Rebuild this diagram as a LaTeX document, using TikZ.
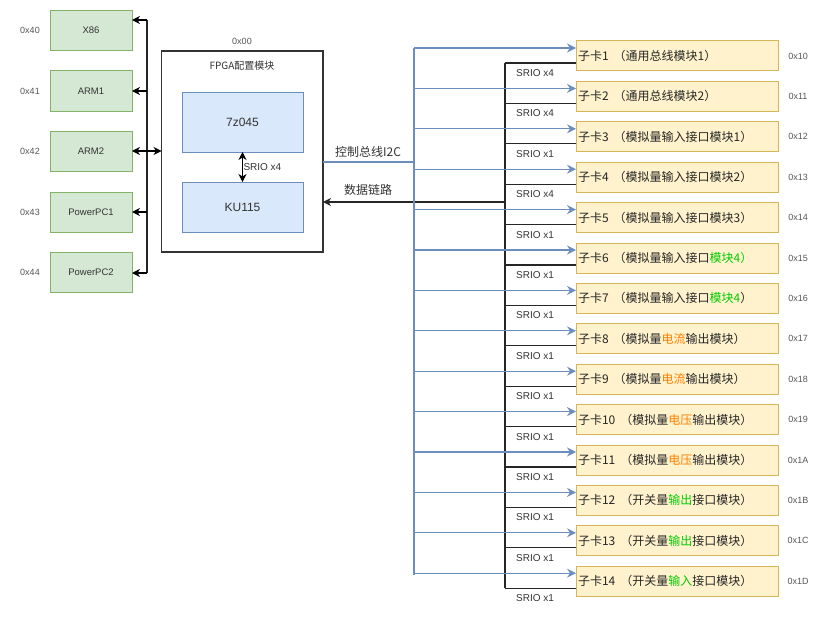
\documentclass[tikz,border=0pt]{standalone}
\usepackage{fontspec}
\setmainfont{Liberation Sans}
\newfontfamily\cjk{Noto Sans CJK SC}
\usetikzlibrary{arrows.meta,calc}
\definecolor{gfill}{HTML}{D5E8D4}
\definecolor{gline}{HTML}{82B366}
\definecolor{bfill}{HTML}{DAE8FC}
\definecolor{bline}{HTML}{6C8EBF}
\definecolor{yfill}{HTML}{FFF2CC}
\definecolor{yline}{HTML}{D6B656}
\definecolor{txt}{HTML}{333333}
\definecolor{hex}{HTML}{555555}
\definecolor{gtxt}{HTML}{00CC00}
\definecolor{otxt}{HTML}{FF8000}
\tikzset{
  every node/.style={inner sep=0pt, outer sep=0pt},
  cpu/.style={draw=gline, fill=gfill, line width=1pt, minimum width=82pt, minimum height=40pt, font=\fontsize{9.5}{11}\selectfont, text=txt},
  chip/.style={draw=bline, fill=bfill, line width=1pt, minimum width=121pt, font=\fontsize{12}{14}\selectfont, text=txt},
  card/.style={draw=yline, fill=yfill, line width=1pt, minimum width=202pt, minimum height=30pt},
  cardtxt/.style={anchor=west, font=\cjk\fontsize{12}{14}\selectfont, text=black!85},
  hexlbl/.style={font=\fontsize{9}{11}\selectfont, text=hex},
  srio/.style={font=\fontsize{10}{12}\selectfont, text=txt},
  arr/.style={-{Stealth[length=8pt,width=8pt,inset=2.5pt]}, line width=1.1pt},
  darr/.style={{Stealth[length=8pt,width=8pt,inset=2.5pt]}-{Stealth[length=8pt,width=8pt,inset=2.5pt]}, line width=1.1pt},
  bluearr/.style={-{Stealth[length=9pt,width=9pt,inset=3pt]}, line width=1.1pt, draw=bline},
  wire/.style={line width=1.1pt, draw=black!85},
}
\begin{document}
\begin{tikzpicture}[x=1pt,y=-1pt]
\useasboundingbox (0,0) rectangle (830,618);
% left CPU boxes
\node[cpu] (x86) at (91,30.5) {X86};
\node[cpu] (arm1) at (91,91) {ARM1};
\node[cpu] (arm2) at (91,151) {ARM2};
\node[cpu] (ppc1) at (91,212) {PowerPC1};
\node[cpu] (ppc2) at (91,272) {PowerPC2};
\node[hexlbl] (h40) at (30,30.5) {0x40};
\node[hexlbl] (h41) at (30,91) {0x41};
\node[hexlbl] (h42) at (30,151) {0x42};
\node[hexlbl] (h43) at (30,212) {0x43};
\node[hexlbl] (h44) at (30,272) {0x44};
% FPGA box
\node[draw=black!80, fill=white, line width=1.1pt, minimum width=161.5pt, minimum height=201pt] (fpga) at (242.25,151.5) {};
\node[hexlbl] (h00) at (242,41) {0x00};
\node[font=\cjk\fontsize{10}{11}\selectfont, text=txt] (ftitle) at (242,66) {FPGA配置模块};
\node[chip, minimum height=60pt] (z7) at (242.5,122) {7z045};
\node[chip, minimum height=50pt] (ku) at (242.5,207) {KU115};
\draw[darr] (z7.south) -- (ku.north) node[midway, right=1pt, srio] {SRIO x4};
% left bus
\coordinate (bt) at (147,20);
\coordinate (bb) at (147,273);
\draw[wire] (bt) -- (bb);
\draw[arr] (bt) -- (bt -| x86.east);
\draw[arr] (147,91) -- (arm1.east);
\draw[arr] (147,212) -- (ppc1.east);
\draw[arr] (bb) -- (bb -| ppc2.east);
\draw[darr] (arm2.east) -- (arm2.east -| fpga.west);
% control bus and data link
\coordinate (ctl) at (414,162);
\coordinate (dat) at (505,202);
\draw[line width=1.1pt, draw=bline] (ctl -| fpga.east) -- (ctl);
\node[font=\cjk\fontsize{12}{14}\selectfont, text=txt] (ctltxt) at (368,152) {控制总线I2C};
\draw[arr, draw=black!85] (dat) -- (dat -| fpga.east);
\node[font=\cjk\fontsize{12}{14}\selectfont, text=txt] (dattxt) at (368,190) {数据链路};
% vertical buses on right
\coordinate (bvt) at (414,48);
\coordinate (bvb) at (414,575.3);
\draw[line width=1.1pt, draw=bline] (bvt) -- (bvb);
\coordinate (kvt) at (505,63);
\coordinate (kvb) at (505,588.3);
\draw[wire] (kvt) -- (kvb);
% cards
\foreach \i/\t/\h/\s in {
 1/{子卡1\hspace{5pt}（通用总线模块1）}/0x10/x4,
 2/{子卡2\hspace{5pt}（通用总线模块2）}/0x11/x4,
 3/{子卡3\hspace{5pt}（模拟量输入接口模块1）}/0x12/x1,
 4/{子卡4\hspace{5pt}（模拟量输入接口模块2）}/0x13/x4,
 5/{子卡5\hspace{5pt}（模拟量输入接口模块3）}/0x14/x1,
 6/{子卡6\hspace{5pt}（模拟量输入接口\textcolor{gtxt}{模块4）}}/0x15/x1,
 7/{子卡7\hspace{5pt}（模拟量输入接口\textcolor{gtxt}{模块4}）}/0x16/x1,
 8/{子卡8\hspace{5pt}（模拟量\textcolor{otxt}{电流}输出模块）}/0x17/x1,
 9/{子卡9\hspace{5pt}（模拟量\textcolor{otxt}{电流}输出模块）}/0x18/x1,
 10/{子卡10\hspace{5pt}（模拟量\textcolor{otxt}{电压}输出模块）}/0x19/x1,
 11/{子卡11\hspace{5pt}（模拟量\textcolor{otxt}{电压}输出模块）}/0x1A/x1,
 12/{子卡12\hspace{5pt}（开关量\textcolor{gtxt}{输出}接口模块）}/0x1B/x1,
 13/{子卡13\hspace{5pt}（开关量\textcolor{gtxt}{输出}接口模块）}/0x1C/x1,
 14/{子卡14\hspace{5pt}（开关量\textcolor{gtxt}{输入}接口模块）}/0x1D/x1}{
  \pgfmathsetmacro{\ty}{41+(\i-1)*40.4}
  \node[card] (c\i) at (677,\ty+15) {};
  \node[cardtxt] (ct\i) at (578,\ty+15) {\t};
  \node[hexlbl] (hx\i) at (798,\ty+15) {\h};
  \draw[bluearr] (414,\ty+7) -- (c\i.west |- 0,\ty+7);
  \draw[wire] (505,\ty+22) -- (c\i.west |- 0,\ty+22);
  \node[srio] (sr\i) at (535,\ty+32) {SRIO \s};
}
\end{tikzpicture}
\end{document}
